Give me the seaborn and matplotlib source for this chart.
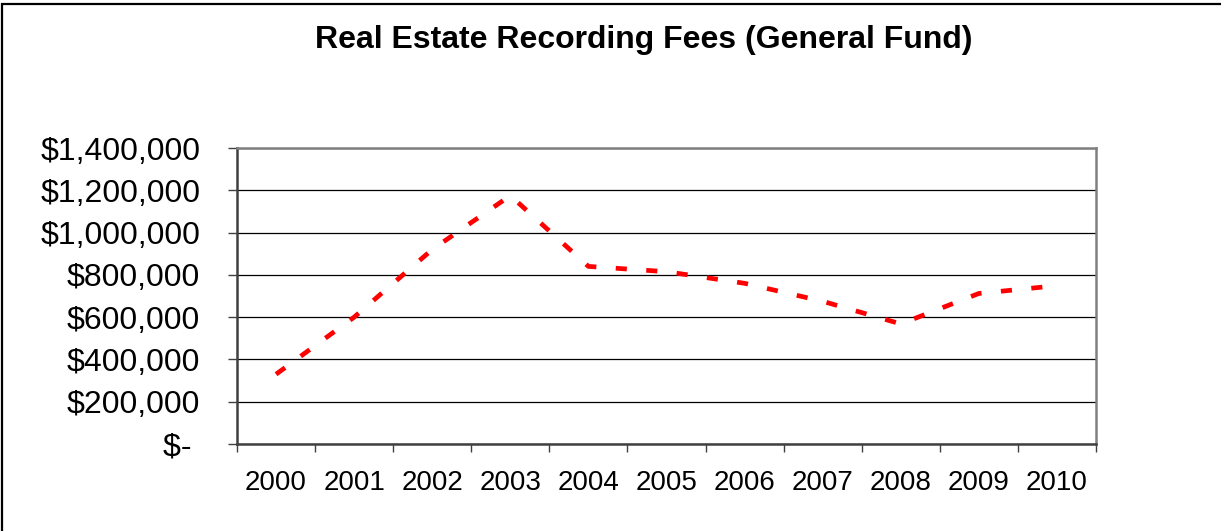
import matplotlib
matplotlib.use('Agg')
import matplotlib.pyplot as plt
import matplotlib.ticker as mticker
from matplotlib.patches import Rectangle
import seaborn as sns
import pandas as pd
import numpy as np

sns.set_theme(style='white')
plt.rcParams['font.family'] = ['Liberation Sans', 'DejaVu Sans']
plt.rcParams['text.color'] = 'black'
plt.rcParams['lines.scale_dashes'] = False

# Data
years = ['2000', '2001', '2002', '2003', '2004', '2005',
         '2006', '2007', '2008', '2009', '2010']
fees = [330000, 600000, 920000, 1175000, 840000, 815000,
        760000, 675000, 568000, 712000, 749000]
y_ticks = [0, 200000, 400000, 600000, 800000, 1000000, 1200000, 1400000]

df = pd.DataFrame({'pos': np.arange(len(years)), 'fees': fees})

fig = plt.figure(figsize=(12.21, 5.31), dpi=100)
ax = fig.add_axes([237 / 1221, 1 - 444 / 531, (1096 - 237) / 1221, (444 - 148) / 531])

# outer chart border (only left and top edges visible in the image)
fig.patches.append(Rectangle((2 / 1221, -0.1), 1.2, 1 - 4 / 531 + 0.1,
                             transform=fig.transFigure, fill=False,
                             edgecolor='black', linewidth=1.6, zorder=0))

sns.lineplot(data=df, x='pos', y='fees', ax=ax, color='#ff0000',
             linewidth=3.4, dashes=False, legend=False, zorder=3)
ax.lines[0].set_dashes((8, 14))
ax.lines[0].set_dash_capstyle('butt')

ax.set_xlim(-0.5, len(years) - 0.5)
ax.set_ylim(0, 1400000)

# y axis
ax.set_yticks(y_ticks)
ax.yaxis.set_major_formatter(mticker.FuncFormatter(
    lambda v, p: '$- ' if v == 0 else f'${v:,.0f}'))
ax.tick_params(axis='y', which='major', length=6.5, width=1, color='#404040',
               direction='out', pad=20, labelsize=23, labelcolor='black', left=True)
ax.grid(axis='y', color='black', linewidth=0.9)

# x axis: labels at category centres, tick marks between categories
ax.set_xticks(np.arange(len(years)))
ax.set_xticklabels(years)
ax.set_xticks(np.arange(-0.5, len(years)), minor=True)
ax.tick_params(axis='x', which='major', length=0, pad=19, labelsize=20,
               labelcolor='black')
ax.tick_params(axis='x', which='minor', length=6, width=1, color='#404040',
               direction='out', bottom=True)
ax.grid(axis='x', visible=False)

ax.set_xlabel('')
ax.set_ylabel('')

for side in ['left', 'bottom']:
    ax.spines[side].set_color('#404040')
    ax.spines[side].set_linewidth(1.8)
for side in ['top', 'right']:
    ax.spines[side].set_color('#808080')
    ax.spines[side].set_linewidth(1.8)

fig.text(644 / 1221, 1 - 40 / 531, 'Real Estate Recording Fees (General Fund)',
         ha='center', va='center', fontsize=23, fontweight='bold', color='black')

fig.savefig('out.png', dpi=100, facecolor='white')
